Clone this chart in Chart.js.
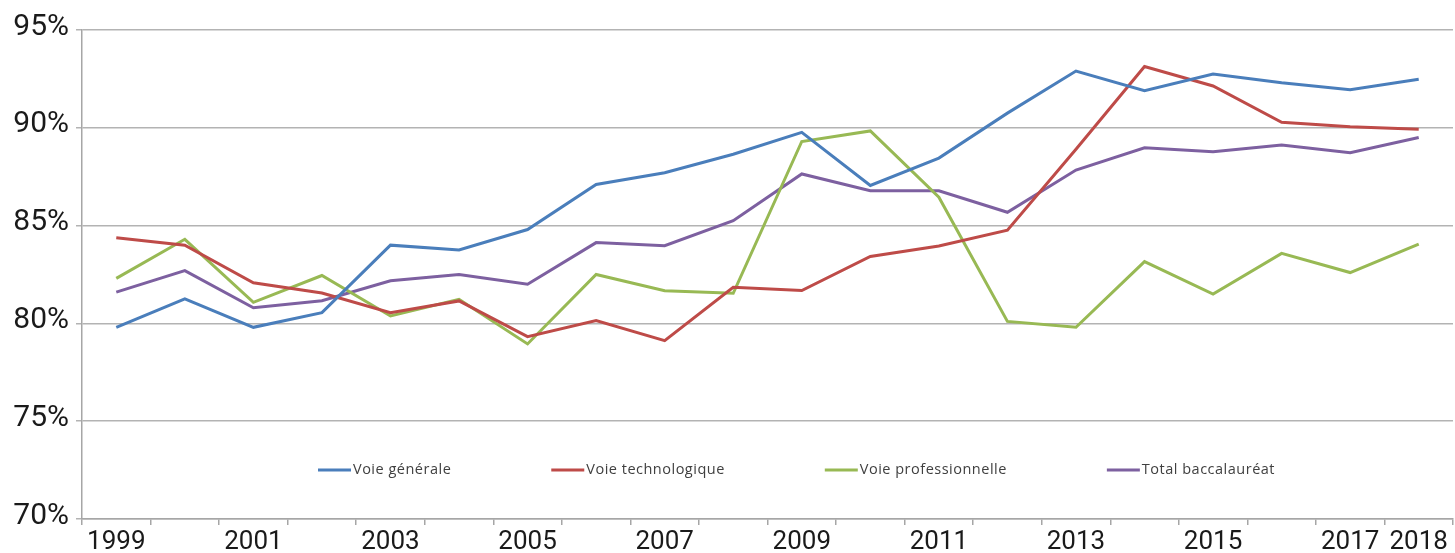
<!DOCTYPE html>
<html>
<head>
  <meta charset="UTF-8" />
  <title>Taux de réussite au baccalauréat</title>
  <script src="https://cdn.jsdelivr.net/npm/chart.js"></script>
  <style>
    body { margin: 0; background: #fff; }
    #chart { display: block; }
  </style>
</head>
<body>
  <canvas id="chart" width="1455" height="553"></canvas>
  <script>
    const years = ['1999','2000','2001','2002','2003','2004','2005','2006','2007','2008',
                   '2009','2010','2011','2012','2013','2014','2015','2016','2017','2018'];
    const shownYears = ['1999','2001','2003','2005','2007','2009','2011','2013','2015','2017','2018'];

    const generale = [79.8, 81.25, 79.8, 80.55, 84.0, 83.75, 84.8, 87.1, 87.7, 88.65,
                      89.77, 87.05, 88.45, 90.75, 92.9, 91.9, 92.75, 92.3, 91.95, 92.48];
    const technologique = [84.38, 84.0, 82.08, 81.55, 80.55, 81.15, 79.32, 80.14, 79.12, 81.85,
                           81.68, 83.42, 83.96, 84.77, 88.9, 93.13, 92.14, 90.28, 90.05, 89.92];
    const professionnelle = [82.3, 84.3, 81.08, 82.45, 80.38, 81.23, 78.95, 82.5, 81.67, 81.54,
                             89.3, 89.84, 86.45, 80.1, 79.8, 83.16, 81.5, 83.58, 82.6, 84.05];
    const total = [81.6, 82.7, 80.8, 81.16, 82.18, 82.5, 82.0, 84.13, 83.97, 85.25,
                   87.64, 86.78, 86.78, 85.68, 87.84, 88.98, 88.78, 89.12, 88.73, 89.5];

    const seriesNames = ['Voie générale', 'Voie technologique', 'Voie professionnelle', 'Total baccalauréat'];
    const seriesColors = ['#4a7ebb', '#be4b48', '#98b954', '#7d60a0'];
    const seriesData = [generale, technologique, professionnelle, total];

    // legend drawn inside the plot, one row near the bottom
    const innerLegend = {
      id: 'innerLegend',
      afterDraw(chart) {
        const ctx = chart.ctx;
        const area = chart.chartArea;
        const y = area.bottom - 49;
        let x = area.left + 236;
        ctx.save();
        ctx.font = '14.5px "Open Sans"';
        ctx.letterSpacing = '0.5px';
        ctx.textBaseline = 'middle';
        chart.data.datasets.forEach(ds => {
          ctx.strokeStyle = ds.borderColor;
          ctx.lineWidth = 3;
          ctx.beginPath();
          ctx.moveTo(x, y);
          ctx.lineTo(x + 33, y);
          ctx.stroke();
          ctx.fillStyle = '#404040';
          ctx.fillText(ds.label, x + 35, y);
          x += 35 + ctx.measureText(ds.label).width + 100;
        });
        ctx.restore();
      }
    };

    new Chart(document.getElementById('chart').getContext('2d'), {
      type: 'line',
      data: {
        labels: years,
        datasets: seriesNames.map((name, i) => ({
          label: name,
          data: seriesData[i],
          borderColor: seriesColors[i],
          backgroundColor: seriesColors[i],
          borderWidth: 3,
          pointRadius: 0,
          tension: 0,
          fill: false
        }))
      },
      options: {
        responsive: false,
        animation: false,
        devicePixelRatio: 1,
        layout: { padding: { top: 30, right: 2, left: 0, bottom: 0 } },
        plugins: {
          legend: { display: false },
          tooltip: { enabled: false }
        },
        scales: {
          x: {
            offset: true,
            afterFit(scale) { scale.height = 34; },
            grid: {
              offset: true,
              drawOnChartArea: false,
              drawTicks: true,
              tickLength: 6,
              color: '#a6a6a6',
              lineWidth: 1.5
            },
            border: { color: '#a6a6a6', width: 1.5 },
            ticks: {
              autoSkip: false,
              maxRotation: 0,
              padding: 2,
              color: '#1a1a1a',
              font: { family: 'Roboto', size: 26 },
              callback(v) {
                const y = this.getLabelForValue(v);
                return shownYears.includes(y) ? y : '';
              }
            }
          },
          y: {
            min: 70,
            max: 95,
            afterFit(scale) { scale.width = 82; },
            grid: {
              color: '#b3b3b3',
              lineWidth: 1.5,
              drawTicks: true,
              tickLength: 6
            },
            border: { color: '#a6a6a6', width: 1.5 },
            ticks: {
              stepSize: 5,
              padding: 7,
              labelOffset: -3,
              color: '#1a1a1a',
              font: { family: 'Roboto', size: 30 },
              callback: v => v + '%'
            }
          }
        }
      },
      plugins: [innerLegend]
    });
  </script>
</body>
</html>
